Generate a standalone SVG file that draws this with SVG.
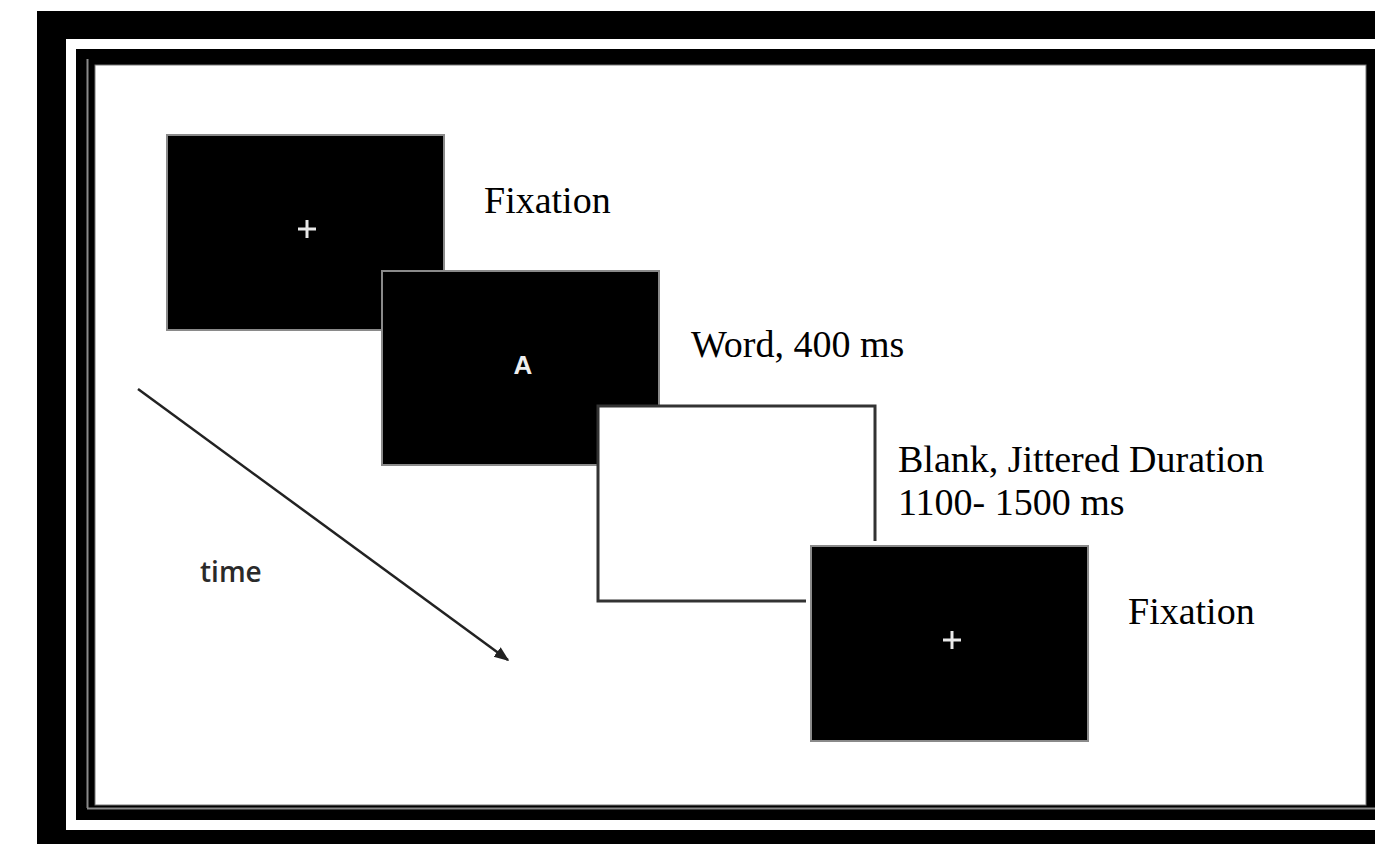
<svg xmlns="http://www.w3.org/2000/svg" width="1375" height="844" viewBox="0 0 1375 844">
  <style>
    .screen { fill: #000; stroke: #8a8a8a; stroke-width: 2; }
    .blank { fill: #fff; stroke: #333; stroke-width: 3; }
    .cross { stroke: #e8e8e8; stroke-width: 3; stroke-linecap: butt; }
    .label { font-family: "Liberation Serif", "Times New Roman", serif; font-size: 38px; fill: #000; }
    .stim { font-family: "Liberation Sans", Arial, sans-serif; font-size: 26px; font-weight: bold; fill: #eee; }
    .time { font-family: "Open Sans", "Liberation Sans", sans-serif; font-size: 28px; font-weight: 600; fill: #2a2a2a; }
  </style>
  <defs>
    <marker id="arrowhead" viewBox="0 0 10 10" refX="9" refY="5" markerWidth="6" markerHeight="6" orient="auto" markerUnits="strokeWidth">
      <path d="M0,1 L10,5 L0,9 Z" fill="#222"/>
    </marker>
  </defs>

  <g id="frame">
    <rect x="0" y="0" width="1375" height="844" fill="#fff"/>
    <rect x="37" y="11" width="1338" height="833" fill="#000"/>
    <rect x="66" y="39" width="1309" height="791" fill="#fff"/>
    <rect x="76" y="49" width="1299" height="771" fill="#000"/>
    <line x1="87.5" y1="59" x2="87.5" y2="808" stroke="#8a8a8a" stroke-width="2"/>
    <line x1="87" y1="808.5" x2="1375" y2="808.5" stroke="#8a8a8a" stroke-width="2"/>
    <rect x="95" y="65" width="1271" height="740" fill="#fff" stroke="#777" stroke-width="1"/>
  </g>

  <g id="panel-fixation-1">
    <rect class="screen" x="167" y="135" width="277" height="195"/>
    <line class="cross" x1="298" y1="229" x2="316" y2="229"/>
    <line class="cross" x1="307" y1="220" x2="307" y2="238"/>
    <text class="label" x="484" y="213">Fixation</text>
  </g>

  <g id="panel-word">
    <rect class="screen" x="382" y="271" width="277" height="194"/>
    <text class="stim" x="523" y="374" text-anchor="middle">A</text>
    <text class="label" x="691" y="357">Word, 400 ms</text>
  </g>

  <g id="panel-blank">
    <rect class="blank" x="598" y="406" width="277" height="195"/>
    <text class="label" x="898" y="472">Blank, Jittered Duration</text>
    <text class="label" x="898" y="515">1100- 1500 ms</text>
  </g>

  <g id="panel-fixation-2">
    <rect x="806" y="541" width="288" height="206" fill="#fff"/>
    <rect class="screen" x="811" y="546" width="277" height="195"/>
    <line class="cross" x1="943" y1="640" x2="961" y2="640"/>
    <line class="cross" x1="952" y1="631" x2="952" y2="649"/>
    <text class="label" x="1128" y="624">Fixation</text>
  </g>

  <g id="connectors">
    <line x1="138" y1="389" x2="508" y2="660" stroke="#222" stroke-width="2.5" marker-end="url(#arrowhead)"/>
    <text class="time" x="200" y="582">time</text>
  </g>
</svg>
